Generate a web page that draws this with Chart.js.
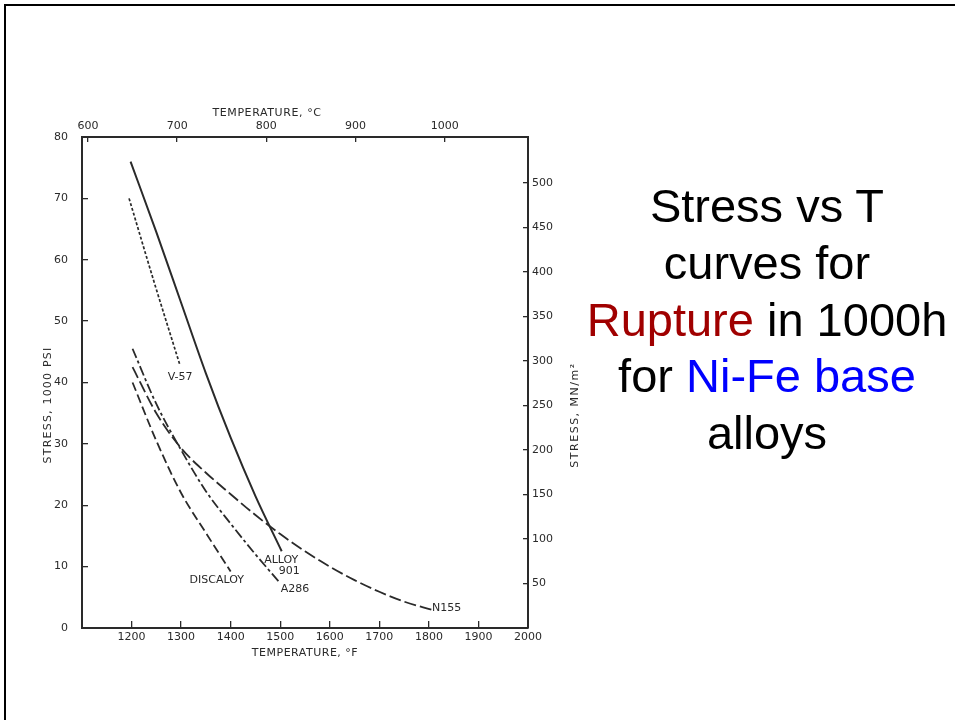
<!DOCTYPE html>
<html>
<head>
<meta charset="utf-8">
<title>Stress vs T curves for rupture in 1000h</title>
<script src="https://cdn.jsdelivr.net/npm/chart.js@4.4.1/dist/chart.umd.min.js"></script>
<style>
  html, body { margin: 0; padding: 0; background: #fff; width: 955px; height: 720px; overflow: hidden; }
  #frame { position: absolute; left: 4px; top: 4px; width: 1000px; height: 800px; border: 2px solid #000; box-sizing: border-box; }
  #wrap { position: absolute; left: 0; top: 0; width: 600px; height: 680px; }
  #slideText {
    position: absolute; left: 567px; top: 178px; width: 400px;
    text-align: center; font-family: "Liberation Sans", Arial, sans-serif;
    font-size: 47px; line-height: 56.75px; color: #000;
  }
  .red { color: #a00000; }
  .blue { color: #0000ff; }
</style>
</head>
<body>
<div id="frame"></div>
<div id="wrap"><canvas id="chart" width="600" height="680"></canvas></div>
<div id="slideText">
  Stress vs T<br>
  curves for<br>
  <span class="red">Rupture</span> in 1000h<br>
  for <span class="blue">Ni-Fe base</span><br>
  alloys
</div>
<script>
'use strict';

// axis ticks
var fTicks = [1200, 1300, 1400, 1500, 1600, 1700, 1800, 1900, 2000];
var cTicks = [600, 700, 800, 900, 1000];
var ksiTicks = [0, 10, 20, 30, 40, 50, 60, 70, 80];
var mpaTicks = [50, 100, 150, 200, 250, 300, 350, 400, 450, 500];

// curves, temperature in F, stress in 1000 psi
var alloy901T = [1198, 1250, 1300, 1350, 1400, 1450, 1503];
var alloy901S = [76, 64.5, 53, 41.5, 31, 21.5, 12.5];

var v57T = [1195, 1245, 1297];
var v57S = [70, 56.5, 43];

var a286T = [1202, 1250, 1300, 1350, 1400, 1450, 1500];
var a286S = [45.5, 36.5, 29, 22.3, 17, 12, 7.3];

var n155T = [1202, 1250, 1300, 1350, 1400, 1450, 1500, 1550, 1600, 1650, 1700, 1750, 1805];
var n155S = [42.5, 35, 29.3, 25.3, 21.8, 18.4, 15.3, 12.5, 10, 7.8, 5.9, 4.3, 3.0];

var discaloyT = [1202, 1250, 1300, 1350, 1400];
var discaloyS = [40, 30.5, 22, 15.5, 9.2];

// curve names, anchored at (F, ksi)
var curveNames = [
  { text: 'V-57', t: 1298, s: 40.9 },
  { text: 'DISCALOY', t: 1372, s: 7.8 },
  { text: 'ALLOY', t: 1502, s: 11.1 },
  { text: '901', t: 1518, s: 9.3 },
  { text: 'A286', t: 1530, s: 6.35 },
  { text: 'N155', t: 1836, s: 3.26 }
];

var F_MIN = 1100, F_MAX = 2000, KSI_MAX = 80;
var KSI_TO_MPA = 6.895;

function fToC(f) { return (f - 32) * 5 / 9; }

function pts(ts, ss) {
  return ts.map((t, i) => ({ x: t, y: ss[i] }));
}

var ink = '#2a2a2a';
var tickFont = { family: 'DejaVu Sans', size: 11 };

function curve(label, ts, ss, dash, width) {
  return {
    label: label,
    data: pts(ts, ss),
    borderColor: ink,
    borderWidth: width,
    borderDash: dash,
    pointRadius: 0,
    fill: false,
    cubicInterpolationMode: 'monotone',
    xAxisID: 'x',
    yAxisID: 'y'
  };
}

function axisBase(tickLength, padding) {
  return {
    type: 'linear',
    grid: { drawOnChartArea: false, tickLength: tickLength, color: ink, lineWidth: 1.3 },
    border: { color: ink, width: 2 },
    ticks: {
      font: tickFont, color: ink, padding: padding, autoSkip: false, maxRotation: 0,
      callback: (v) => String(v)
    }
  };
}

var xAxis = axisBase(-7, 10);
xAxis.position = 'bottom';
xAxis.min = F_MIN; xAxis.max = F_MAX;
xAxis.afterBuildTicks = (s) => { s.ticks = fTicks.map((v) => ({ value: v })); };
xAxis.afterFit = (s) => { s.height = 52; };

var x2Axis = axisBase(-5, 9);
x2Axis.position = 'top';
x2Axis.min = fToC(F_MIN); x2Axis.max = fToC(F_MAX);
x2Axis.afterBuildTicks = (s) => { s.ticks = cTicks.map((v) => ({ value: v })); };
x2Axis.afterFit = (s) => { s.height = 137; };

var yAxis = axisBase(-6, 20);
yAxis.position = 'left';
yAxis.min = 0; yAxis.max = KSI_MAX;
yAxis.afterBuildTicks = (s) => { s.ticks = ksiTicks.map((v) => ({ value: v })); };
yAxis.afterFit = (s) => { s.width = 82; };

var y2Axis = axisBase(-5, 9);
y2Axis.position = 'right';
y2Axis.min = 0; y2Axis.max = KSI_MAX * KSI_TO_MPA;
y2Axis.afterBuildTicks = (s) => { s.ticks = mpaTicks.map((v) => ({ value: v })); };
y2Axis.afterFit = (s) => { s.width = 72; };

// axis titles and curve names
var annotate = {
  id: 'annotate',
  afterDraw(chart) {
    var ctx = chart.ctx;
    var a = chart.chartArea;
    var x = chart.scales.x, y = chart.scales.y;
    ctx.save();
    ctx.fillStyle = ink;
    ctx.textAlign = 'center';
    ctx.textBaseline = 'middle';
    ctx.font = '11px "DejaVu Sans"';
    curveNames.forEach((c) => {
      ctx.fillText(c.text, x.getPixelForValue(c.t), y.getPixelForValue(c.s));
    });

    ctx.letterSpacing = '0.5px';
    ctx.fillText('TEMPERATURE, \u00b0F', (a.left + a.right) / 2, a.bottom + 25);
    ctx.letterSpacing = '0.6px';
    ctx.fillText('TEMPERATURE, \u00b0C', a.left + 185, a.top - 24);

    ctx.save();
    ctx.translate(a.left - 34, a.top + 268);
    ctx.rotate(-Math.PI / 2);
    ctx.letterSpacing = '1.2px';
    ctx.fillText('STRESS, 1000 PSI', 0, 0);
    ctx.restore();

    ctx.save();
    ctx.translate(a.right + 47, a.top + 278);
    ctx.rotate(-Math.PI / 2);
    ctx.letterSpacing = '1.5px';
    ctx.fillText('STRESS, MN/m\u00b2', 0, 0);
    ctx.restore();
    ctx.restore();
  }
};

var ctx = document.getElementById('chart');
new Chart(ctx, {
  type: 'line',
  data: {
    datasets: [
      curve('Alloy 901', alloy901T, alloy901S, [], 2),
      curve('V-57', v57T, v57S, [3, 2], 1.7),
      curve('A286', a286T, a286S, [10, 3, 3, 3], 1.8),
      curve('N155', n155T, n155S, [12, 4], 1.8),
      curve('Discaloy', discaloyT, discaloyS, [9, 4], 1.8)
    ]
  },
  options: {
    responsive: false,
    animation: false,
    layout: { padding: 0 },
    plugins: { legend: { display: false }, tooltip: { enabled: false } },
    scales: { x: xAxis, x2: x2Axis, y: yAxis, y2: y2Axis }
  },
  plugins: [annotate]
});
</script>
</body>
</html>
